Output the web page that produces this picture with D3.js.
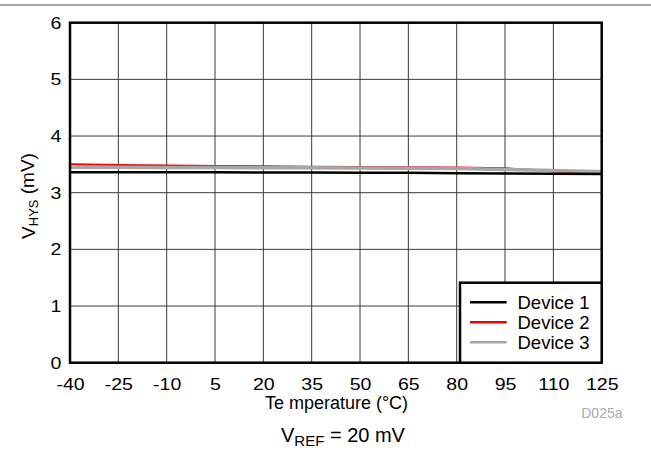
<!DOCTYPE html>
<html>
<head>
<meta charset="utf-8">
<script src="https://cdn.jsdelivr.net/npm/d3@7"></script>
<style>
  html, body { margin: 0; padding: 0; background: #fff; }
  svg { display: block; font-family: "Liberation Sans", Arial, sans-serif; }
</style>
</head>
<body>
<svg id="chart" width="651" height="450"></svg>
<script>
// Hysteresis voltage versus temperature, three devices
const temperatures = [-40, -25, -10, 5, 20, 35, 50, 65, 80, 95, 110, 125];
const device1 = [3.36, 3.36, 3.36, 3.36, 3.355, 3.355, 3.35, 3.35, 3.345, 3.34, 3.335, 3.33];
const device2 = [3.50, 3.49, 3.48, 3.47, 3.465, 3.46, 3.455, 3.45, 3.445, 3.43, 3.38, 3.34];
const device3 = [3.45, 3.45, 3.445, 3.445, 3.44, 3.44, 3.435, 3.43, 3.425, 3.41, 3.39, 3.37];
const seriesNames = ["Device 1", "Device 2", "Device 3"];
const seriesColors = ["#000000", "#ee0000", "#a6a6a6"];
const seriesWidths = [2.5, 2, 3.5];
const yTicks = [0, 1, 2, 3, 4, 5, 6];

const svg = d3.select("#chart");
const plotLeft = 70, plotRight = 601.7, plotTop = 22.7, plotBottom = 362.7;
const font = "Liberation Sans, Arial, sans-serif";

const x = d3.scaleLinear().domain([-40, 125]).range([plotLeft, plotRight]);
const y = d3.scaleLinear().domain([0, 6]).range([plotBottom, plotTop]);

// rule across the top of the page
svg.append("line")
  .attr("x1", 0).attr("x2", 651).attr("y1", 5).attr("y2", 5)
  .attr("stroke", "#858585").attr("stroke-width", 1.5);

// grid
const grid = svg.append("g");
grid.selectAll("line.v").data(temperatures.slice(1, -1)).enter().append("line")
  .attr("x1", d => x(d)).attr("x2", d => x(d))
  .attr("y1", plotTop).attr("y2", plotBottom)
  .attr("stroke", "#3a3a3a").attr("stroke-width", 1);
grid.selectAll("line.h").data(yTicks.slice(1, -1)).enter().append("line")
  .attr("x1", plotLeft).attr("x2", plotRight)
  .attr("y1", d => y(d)).attr("y2", d => y(d))
  .attr("stroke", "#3a3a3a").attr("stroke-width", 1);

// tick labels drawn by d3 axes (labels are a little wide, hence the x-stretch)
const xAxis = d3.axisBottom(x).tickValues(temperatures).tickSize(0).tickPadding(15)
  .tickFormat(d => String(d));
const gx = svg.append("g").attr("transform", `translate(0,${plotBottom})`).call(xAxis);
gx.select(".domain").remove();
gx.selectAll("text").attr("font-size", 17).attr("fill", "#000")
  .attr("font-family", font).attr("transform", "scale(1.15,1)")
  .attr("x", 0);

const yAxis = d3.axisLeft(y).tickValues(yTicks).tickSize(0).tickPadding(7.4)
  .tickFormat(d => String(d));
const gy = svg.append("g").attr("transform", `translate(${plotLeft},0)`).call(yAxis);
gy.select(".domain").remove();
gy.selectAll("text").attr("font-size", 17).attr("fill", "#000")
  .attr("font-family", font).attr("transform", "scale(1.15,1)");

// series lines
const seriesData = [device1, device2, device3];
const line = d3.line().x((d, i) => x(temperatures[i])).y(d => y(d));
const drawOrder = [1, 2, 0];
drawOrder.forEach(k => {
  svg.append("path")
    .datum(seriesData[k])
    .attr("d", line)
    .attr("fill", "none")
    .attr("stroke", seriesColors[k])
    .attr("stroke-width", seriesWidths[k]);
});

// plot frame
svg.append("rect")
  .attr("x", plotLeft).attr("y", plotTop)
  .attr("width", plotRight - plotLeft).attr("height", plotBottom - plotTop)
  .attr("fill", "none").attr("stroke", "#000").attr("stroke-width", 2.5);

// legend
const lg = svg.append("g");
lg.append("rect")
  .attr("x", 460).attr("y", 282.7).attr("width", 141.7).attr("height", 80)
  .attr("fill", "#fff").attr("stroke", "#000").attr("stroke-width", 2.5);
seriesNames.forEach((name, i) => {
  const ly = 302.3 + i * 20;
  lg.append("line")
    .attr("x1", 470).attr("x2", 506.7).attr("y1", ly).attr("y2", ly)
    .attr("stroke", seriesColors[i]).attr("stroke-width", 2.5);
  lg.append("text")
    .attr("x", 517.5).attr("y", ly).attr("dy", "0.35em")
    .attr("font-size", 18.5).text(name);
});

// axis titles
svg.append("text")
  .attr("x", 336.5).attr("y", 403).attr("dy", "0.35em")
  .attr("text-anchor", "middle").attr("font-size", 18)
  .text("Te mperature (°C)");

const yt = svg.append("text")
  .attr("transform", "translate(28,196) rotate(-90)")
  .attr("text-anchor", "middle").attr("dy", "0.35em").attr("font-size", 19);
yt.append("tspan").text("V");
yt.append("tspan").attr("font-size", 13).attr("dy", "0.25em").text("HYS");
yt.append("tspan").attr("dy", "-0.18em").text(" (mV)");

// figure id
svg.append("text")
  .attr("x", 622.5).attr("y", 413).attr("dy", "0.35em")
  .attr("text-anchor", "end").attr("font-size", 14).attr("fill", "#aaaaaa")
  .text("D025a");

// condition note
const note = svg.append("text")
  .attr("x", 343).attr("y", 442)
  .attr("text-anchor", "middle").attr("font-size", 20);
note.append("tspan").text("V");
note.append("tspan").attr("font-size", 15).attr("dy", 3.5).text("REF");
note.append("tspan").attr("dy", -3.5).text(" = 20 mV");
</script>
</body>
</html>
